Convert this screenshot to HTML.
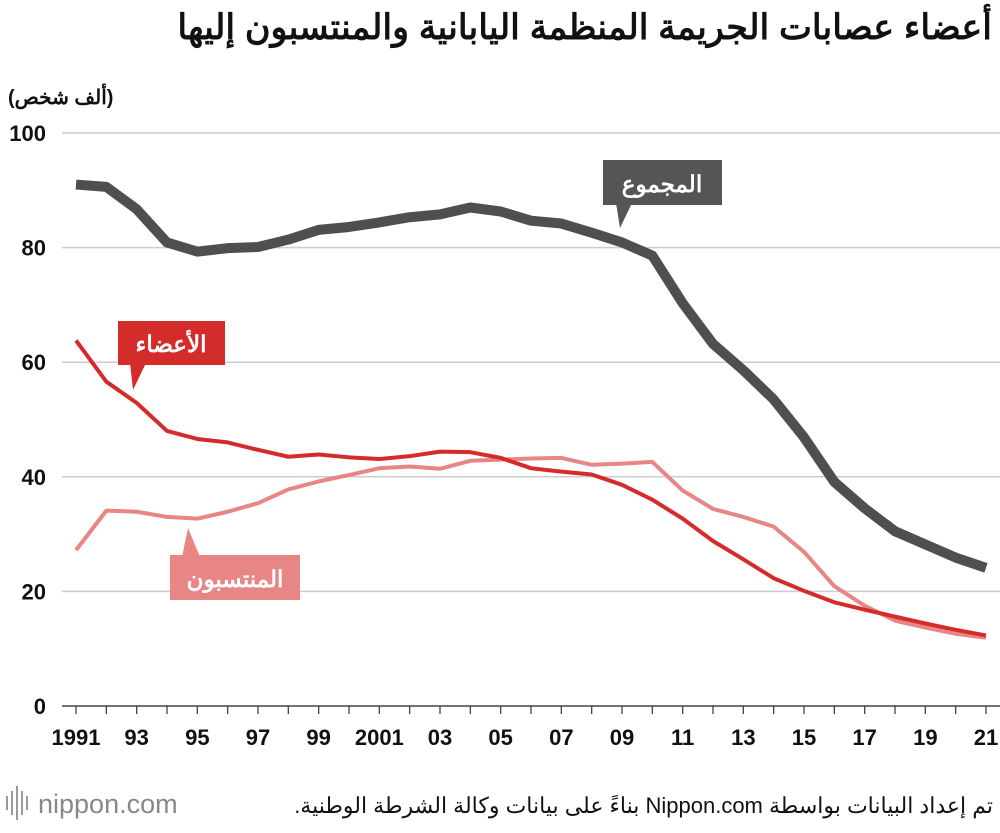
<!DOCTYPE html>
<html><head><meta charset="utf-8">
<style>
body{margin:0;background:#fff;width:1000px;height:828px;overflow:hidden;font-family:"Liberation Sans","Noto Sans CJK SC",sans-serif;}
svg text{font-family:"Liberation Sans","Noto Sans CJK SC",sans-serif;}
</style></head>
<body>
<svg id="chart" width="1000" height="828">
<text x="992" y="39" text-anchor="start" direction="rtl" font-size="35" font-weight="bold" fill="#111">أعضاء عصابات الجريمة المنظمة اليابانية والمنتسبون إليها</text>
<text x="8" y="104" font-size="20" font-weight="bold" fill="#111">(ألف شخص)</text>
<g id="grid"></g>
<g id="lines"></g>
<g>
<polygon points="616,203 632,203 620,228" fill="#555"/>
<rect x="603" y="160" width="119" height="45" fill="#555"/>
<text x="662" y="192" text-anchor="middle" font-size="23" font-weight="bold" fill="#fff">المجموع</text></g>
<g>
<polygon points="130,363 146,363 133,390" fill="#d42b2b"/>
<rect x="118" y="321" width="107" height="44" fill="#d42b2b"/>
<text x="171" y="352" text-anchor="middle" font-size="23" font-weight="bold" fill="#fff">الأعضاء</text></g>
<g>
<polygon points="182,557 200,557 188,528" fill="#e88585"/>
<rect x="170" y="555" width="130" height="45" fill="#e88585"/>
<text x="235" y="587" text-anchor="middle" font-size="23" font-weight="bold" fill="#fff">المنتسبون</text></g>
<g>
<rect x="6" y="796" width="2" height="14" fill="#999"/><rect x="11" y="791" width="2" height="24" fill="#999"/><rect x="16" y="786" width="2" height="34" fill="#999"/><rect x="21" y="791" width="2" height="24" fill="#999"/><rect x="26" y="796" width="2" height="14" fill="#999"/>
<text x="38" y="813" font-size="27" fill="#888">nippon.com</text></g>
<text x="993" y="813" text-anchor="start" direction="rtl" font-size="22" fill="#111">تم إعداد البيانات بواسطة Nippon.com بناءً على بيانات وكالة الشرطة الوطنية.</text>
</svg>
<script>
const years=[1991,1992,1993,1994,1995,1996,1997,1998,1999,2000,2001,2002,2003,2004,2005,2006,2007,2008,2009,2010,2011,2012,2013,2014,2015,2016,2017,2018,2019,2020,2021];
const totalValues=[91.0,90.6,86.7,80.9,79.3,79.9,80.1,81.4,83.1,83.6,84.4,85.3,85.8,87.0,86.3,84.7,84.2,82.6,80.9,78.6,70.3,63.2,58.6,53.5,46.9,39.1,34.5,30.5,28.2,25.9,24.1];
const memberValues=[63.8,56.6,52.9,48.0,46.6,46.0,44.7,43.5,43.9,43.4,43.1,43.6,44.4,44.3,43.3,41.5,40.9,40.4,38.6,36.0,32.7,28.8,25.6,22.3,20.1,18.1,16.8,15.6,14.4,13.3,12.3];
const associateValues=[27.2,34.1,33.9,33.0,32.7,33.9,35.4,37.8,39.2,40.3,41.5,41.8,41.4,42.8,43.0,43.2,43.3,42.1,42.3,42.6,37.6,34.4,33.0,31.3,26.9,20.9,17.5,14.9,13.7,12.6,11.9];
const yTicks=[0,20,40,60,80,100];
const xTickLabels=["1991","93","95","97","99","2001","03","05","07","09","11","13","15","17","19","21"];
const NS="http://www.w3.org/2000/svg";
const xs=y=>76+(y-1991)*(986-76)/30;
const ys=v=>706-v*5.73;
function mk(tag,at,parent){const e=document.createElementNS(NS,tag);for(const k in at)e.setAttribute(k,at[k]);parent.appendChild(e);return e;}
const grid=document.getElementById('grid');
yTicks.forEach(t=>{
 const l=mk('line',{x1:62,x2:1000,y1:ys(t),y2:ys(t),stroke:t===0?'#444':'#ccc','stroke-width':1.5},grid);
 
 
 const tx=mk('text',{x:46,y:ys(t)+8,'text-anchor':'end','font-size':22,'font-weight':'bold',fill:'#111'},grid);tx.textContent=t;
 
 
});
years.forEach(y=>{const l=mk('line',{x1:xs(y),x2:xs(y),y1:706,y2:714,stroke:'#444','stroke-width':1.3},grid);
 
 });
xTickLabels.forEach((s,i)=>{const y=1991+2*i;const tx=mk('text',{x:xs(y),y:745,'text-anchor':'middle','font-size':22,'font-weight':'bold',fill:'#111'},grid);tx.textContent=s;
 
 });
const lines=document.getElementById('lines');
function series(vals,color,w,name){const p=mk('polyline',{points:vals.map((v,i)=>xs(years[i])+','+ys(v)).join(' '),fill:'none',stroke:color,'stroke-width':w,'stroke-linejoin':'round'},lines);
 
 }
series(associateValues,'#e88585',4,'line-associates');
series(memberValues,'#d42b2b',4,'line-members');
series(totalValues,'#4f4f4f',10,'line-total');
</script>
</body></html>
